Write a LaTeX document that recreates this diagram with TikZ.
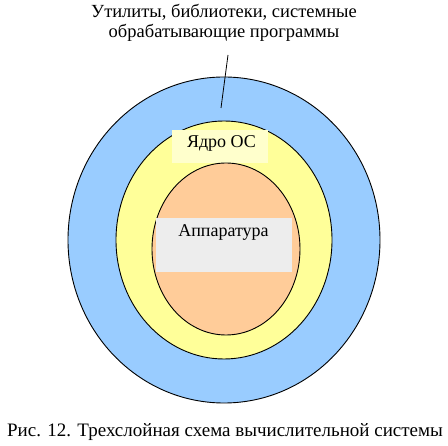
\documentclass[tikz,border=0pt]{standalone}
\usepackage{fontspec}
\setmainfont{Liberation Serif}
\definecolor{outerblue}{HTML}{99CCFF}
\definecolor{midyellow}{HTML}{FFFF99}
\definecolor{innerorange}{HTML}{FFCC99}
\definecolor{osbox}{HTML}{FFFFCC}
\definecolor{hwbox}{HTML}{EDEDED}
\tikzset{
  layer/.style={draw=black, line width=0.9pt},
  labelbox/.style={inner sep=0pt, anchor=base, font=\fontsize{18}{20}\selectfont},
  titletext/.style={align=center, inner sep=0pt, anchor=base, font=\fontsize{18.5}{20.5}\selectfont},
}
\begin{document}
\begin{tikzpicture}[x=1pt,y=-1pt]
\useasboundingbox (0,0) rectangle (448,446);
\fill[white] (0,0) rectangle (448,446);
\draw[layer, fill=outerblue] (224,240) ellipse [x radius=156, y radius=163];
\draw[layer, fill=midyellow] (224,240) ellipse [x radius=108, y radius=119];
\fill[osbox] (172,130) rectangle (268,163);
\node[labelbox] (os) at (221.5,148) {Ядро ОС};
\draw[layer, fill=innerorange] (226,249) ellipse [x radius=74, y radius=86];
\fill[hwbox] (156,218) rectangle (292,272);
\node[labelbox] (hw) at (223.5,237) {Аппаратура};
\node[titletext] (title) at (224,38) {Утилиты, библиотеки, системные\\обрабатывающие программы};
\coordinate (lineend) at (221,108);
\draw[line width=0.8pt] (228,55) -- (lineend);
\node[titletext, font=\fontsize{19}{22}\selectfont] (caption) at (225,437) {Рис. 12. Трехслойная схема вычислительной системы};
\end{tikzpicture}
\end{document}
